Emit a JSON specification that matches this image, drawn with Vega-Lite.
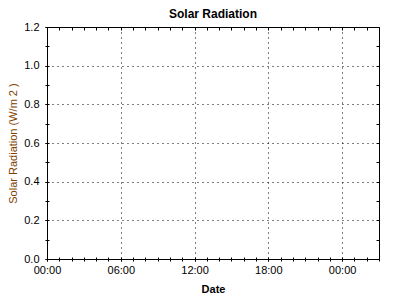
{
  "$schema": "https://vega.github.io/schema/vega-lite/v6.json",
  "width": 332,
  "height": 232,
  "autosize": {"type": "none"},
  "padding": {"left": 47, "top": 27, "right": 21, "bottom": 41},
  "background": "white",
  "title": {"text": "Solar Radiation", "font": "Liberation Sans", "fontSize": 12, "fontWeight": "bold", "color": "black", "anchor": "middle", "frame": "group", "offset": 0},
  "data": {"values": [
    {"date": "2024-01-01T00:00:00Z", "radiation": null},
    {"date": "2024-01-02T03:00:00Z", "radiation": null}
  ]},
  "layer": [
    {
      "mark": {"type": "point", "color": "black", "opacity": 0},
      "encoding": {
        "x": {"field": "date", "type": "temporal",
          "scale": {"type": "utc", "nice": false, "domain": ["2024-01-01T00:00:00Z", "2024-01-02T03:00:00Z"]},
          "axis": {"orient": "bottom", "values": ["2024-01-01T00:00:00Z", "2024-01-01T06:00:00Z", "2024-01-01T12:00:00Z", "2024-01-01T18:00:00Z", "2024-01-02T00:00:00Z"], "format": "%H:%M", "tickSize": 2,
            "grid": true, "gridColor": "black", "gridDash": [1, 4],
            "title": "Date", "titleFontWeight": "bold", "titleColor": "black", "labelPadding": 3, "titlePadding": 8}},
        "y": {"field": "radiation", "type": "quantitative",
          "scale": {"domain": [0, 1.2], "nice": false},
          "axis": {"orient": "left", "values": [0, 0.2, 0.4, 0.6, 0.8, 1.0, 1.2], "format": ".1f", "tickSize": 2,
            "grid": true, "gridColor": "black", "gridDash": [1, 4],
            "title": "Solar Radiation (W/m 2 )", "titleColor": "#804000", "titleFontWeight": "normal", "labelPadding": 6, "titlePadding": 5}}
      }
    },
    {
      "mark": {"type": "point", "color": "black", "opacity": 0},
      "encoding": {
        "x": {"field": "date", "type": "temporal",
          "scale": {"type": "utc", "nice": false, "domain": ["2024-01-01T00:00:00Z", "2024-01-02T03:00:00Z"]},
          "axis": {"orient": "bottom", "values": ["2024-01-01T00:00:00Z", "2024-01-01T01:00:00Z", "2024-01-01T02:00:00Z", "2024-01-01T03:00:00Z", "2024-01-01T04:00:00Z", "2024-01-01T05:00:00Z", "2024-01-01T06:00:00Z", "2024-01-01T07:00:00Z", "2024-01-01T08:00:00Z", "2024-01-01T09:00:00Z", "2024-01-01T10:00:00Z", "2024-01-01T11:00:00Z", "2024-01-01T12:00:00Z", "2024-01-01T13:00:00Z", "2024-01-01T14:00:00Z", "2024-01-01T15:00:00Z", "2024-01-01T16:00:00Z", "2024-01-01T17:00:00Z", "2024-01-01T18:00:00Z", "2024-01-01T19:00:00Z", "2024-01-01T20:00:00Z", "2024-01-01T21:00:00Z", "2024-01-01T22:00:00Z", "2024-01-01T23:00:00Z", "2024-01-02T00:00:00Z", "2024-01-02T01:00:00Z", "2024-01-02T02:00:00Z", "2024-01-02T03:00:00Z"],
            "tickSize": 2, "labels": false, "grid": false, "title": null}},
        "y": {"field": "radiation", "type": "quantitative",
          "scale": {"domain": [0, 1.2], "nice": false},
          "axis": {"orient": "left", "values": [0, 0.1, 0.2, 0.3, 0.4, 0.5, 0.6, 0.7, 0.8, 0.9, 1.0, 1.1, 1.2], "tickSize": 2, "labels": false, "grid": false, "title": null}}
      }
    },
    {
      "mark": {"type": "point", "color": "black", "opacity": 0},
      "encoding": {
        "x": {"field": "date", "type": "temporal",
          "scale": {"type": "utc", "nice": false, "domain": ["2024-01-01T00:00:00Z", "2024-01-02T03:00:00Z"]},
          "axis": {"orient": "bottom", "values": ["2024-01-01T00:00:00Z", "2024-01-01T01:00:00Z", "2024-01-01T02:00:00Z", "2024-01-01T03:00:00Z", "2024-01-01T04:00:00Z", "2024-01-01T05:00:00Z", "2024-01-01T06:00:00Z", "2024-01-01T07:00:00Z", "2024-01-01T08:00:00Z", "2024-01-01T09:00:00Z", "2024-01-01T10:00:00Z", "2024-01-01T11:00:00Z", "2024-01-01T12:00:00Z", "2024-01-01T13:00:00Z", "2024-01-01T14:00:00Z", "2024-01-01T15:00:00Z", "2024-01-01T16:00:00Z", "2024-01-01T17:00:00Z", "2024-01-01T18:00:00Z", "2024-01-01T19:00:00Z", "2024-01-01T20:00:00Z", "2024-01-01T21:00:00Z", "2024-01-01T22:00:00Z", "2024-01-01T23:00:00Z", "2024-01-02T00:00:00Z", "2024-01-02T01:00:00Z", "2024-01-02T02:00:00Z", "2024-01-02T03:00:00Z"],
            "tickSize": -2, "labels": false, "grid": false, "title": null}},
        "y": {"field": "radiation", "type": "quantitative",
          "scale": {"domain": [0, 1.2], "nice": false},
          "axis": {"orient": "left", "values": [0, 0.1, 0.2, 0.3, 0.4, 0.5, 0.6, 0.7, 0.8, 0.9, 1.0, 1.1, 1.2], "tickSize": -2, "labels": false, "grid": false, "title": null}}
      }
    },
    {
      "mark": {"type": "point", "color": "black", "opacity": 0},
      "encoding": {
        "x": {"field": "date", "type": "temporal",
          "scale": {"type": "utc", "nice": false, "domain": ["2024-01-01T00:00:00Z", "2024-01-02T03:00:00Z"]},
          "axis": {"orient": "top", "values": ["2024-01-01T00:00:00Z", "2024-01-01T01:00:00Z", "2024-01-01T02:00:00Z", "2024-01-01T03:00:00Z", "2024-01-01T04:00:00Z", "2024-01-01T05:00:00Z", "2024-01-01T06:00:00Z", "2024-01-01T07:00:00Z", "2024-01-01T08:00:00Z", "2024-01-01T09:00:00Z", "2024-01-01T10:00:00Z", "2024-01-01T11:00:00Z", "2024-01-01T12:00:00Z", "2024-01-01T13:00:00Z", "2024-01-01T14:00:00Z", "2024-01-01T15:00:00Z", "2024-01-01T16:00:00Z", "2024-01-01T17:00:00Z", "2024-01-01T18:00:00Z", "2024-01-01T19:00:00Z", "2024-01-01T20:00:00Z", "2024-01-01T21:00:00Z", "2024-01-01T22:00:00Z", "2024-01-01T23:00:00Z", "2024-01-02T00:00:00Z", "2024-01-02T01:00:00Z", "2024-01-02T02:00:00Z", "2024-01-02T03:00:00Z"],
            "tickSize": -3, "labels": false, "grid": false, "title": null}},
        "y": {"field": "radiation", "type": "quantitative",
          "scale": {"domain": [0, 1.2], "nice": false},
          "axis": {"orient": "right", "values": [0, 0.1, 0.2, 0.3, 0.4, 0.5, 0.6, 0.7, 0.8, 0.9, 1.0, 1.1, 1.2], "tickSize": -3, "labels": false, "grid": false, "title": null}}
      }
    }
  ],
  "resolve": {"axis": {"x": "independent", "y": "independent"}},
  "config": {
    "view": {"stroke": "black", "strokeWidth": 1},
    "axis": {"domain": false, "tickColor": "black", "labelColor": "black", "labelFont": "Liberation Sans", "labelFontSize": 11, "titleFont": "Liberation Sans", "titleFontSize": 11, "labelFlush": false}
  }
}
